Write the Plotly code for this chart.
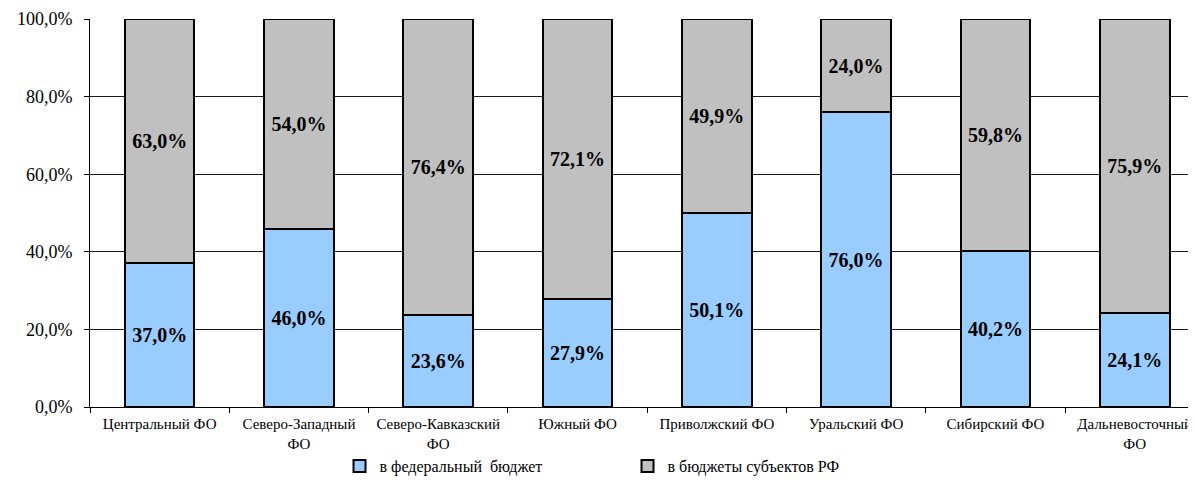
import plotly.graph_objects as go

categories = ["Центральный ФО", "Северо-Западный<br>ФО", "Северо-Кавказский<br>ФО", "Южный ФО",
              "Приволжский ФО", "Уральский ФО", "Сибирский ФО", "Дальневосточный<br>ФО"]
federal = [37.0, 46.0, 23.6, 27.9, 50.1, 76.0, 40.2, 24.1]
subjects = [63.0, 54.0, 76.4, 72.1, 49.9, 24.0, 59.8, 75.9]
series_names = ["в федеральный  бюджет", "в бюджеты субъектов РФ"]
y_ticks = [0, 20, 40, 60, 80, 100]
y_tick_labels = ["0,0%", "20,0%", "40,0%", "60,0%", "80,0%", "100,0%"]


def fmt(v):
    return f"{v:.1f}".replace(".", ",") + "%"


FONT = "Liberation Serif"

fig = go.Figure()
for vals, name, color in [(federal, series_names[0], "#99CCFF"), (subjects, series_names[1], "#C0C0C0")]:
    fig.add_trace(go.Bar(
        x=categories, y=vals, name=name,
        marker=dict(color=color, line=dict(color="#000000", width=2)),
        text=[fmt(v) for v in vals], textposition="inside", insidetextanchor="middle",
        textfont=dict(family=FONT, size=20, color="#000000", weight="bold"),
        constraintext="none", width=0.5,
    ))

fig.update_layout(
    barmode="stack",
    width=1196, height=504,
    margin=dict(l=82, r=8, t=11, b=105, autoexpand=False),
    paper_bgcolor="white", plot_bgcolor="white",
    font=dict(family=FONT, color="#000000"),
    showlegend=True,
    legend=dict(orientation="h", x=0.2256, y=-0.152, xanchor="left", yanchor="middle",
                font=dict(family=FONT, size=16, color="#000000"),
                entrywidth=243, entrywidthmode="pixels", itemwidth=30,
                traceorder="normal"),
)
fig.update_xaxes(
    type="category", range=[-0.5, 7.44], automargin=False,
    showline=True, linecolor="#000000", linewidth=1,
    ticks="outside", tickson="boundaries", ticklen=5, tickcolor="#000000",
    tickfont=dict(family=FONT, size=15, color="#000000"),
    ticklabelstandoff=3,
    showgrid=False,
)
fig.update_yaxes(
    range=[0, 100], tickvals=y_ticks, ticktext=y_tick_labels, automargin=False,
    showline=True, linecolor="#000000", linewidth=1,
    ticks="outside", ticklen=5, tickcolor="#000000",
    tickfont=dict(family=FONT, size=18, color="#000000"),
    ticklabelstandoff=8,
    showgrid=True, gridcolor="#1a1a1a", gridwidth=1,
    zeroline=False,
)

fig.write_html("out.html")
